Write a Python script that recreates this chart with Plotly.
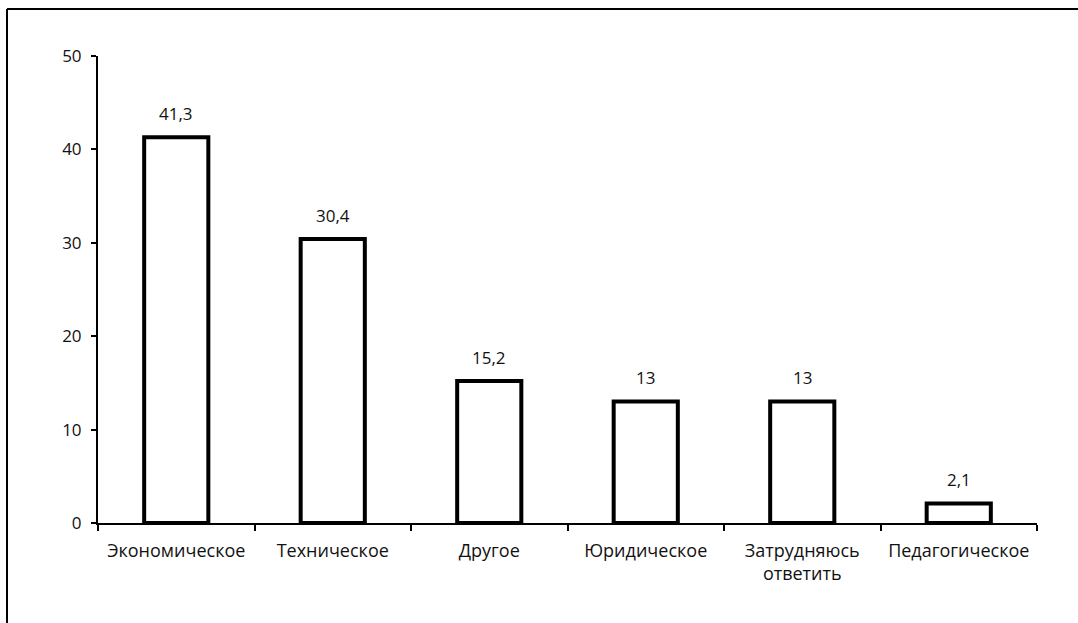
import plotly.graph_objects as go

categories = ["Экономическое", "Техническое", "Другое", "Юридическое",
              "Затрудняюсь<br>ответить", "Педагогическое"]
values = [41.3, 30.4, 15.2, 13, 13, 2.1]
labels = ["41,3", "30,4", "15,2", "13", "13", "2,1"]
y_ticks = [0, 10, 20, 30, 40, 50]

FONT = "'Open Sans', sans-serif"
FS = 17

fig = go.Figure()
fig.add_trace(go.Bar(
    x=categories, y=values, width=0.41,
    marker=dict(color="white", line=dict(color="black", width=4)),
    hoverinfo="skip",
))

for c, v, t in zip(categories, values, labels):
    fig.add_annotation(x=c, y=v, text=t, showarrow=False, yshift=24,
                       font=dict(family=FONT, size=FS, color="#111"))

def px_x(p):
    return (p - 98) / 939
def px_y(p):
    return (523 - p) / 467

fig.add_shape(type="line", xref="paper", yref="paper",
              x0=px_x(7), x1=px_x(1080), y0=px_y(9), y1=px_y(9),
              line=dict(color="black", width=2))
fig.add_shape(type="line", xref="paper", yref="paper",
              x0=px_x(7), x1=px_x(7), y0=px_y(9), y1=px_y(625),
              line=dict(color="black", width=2))

fig.update_layout(
    width=1078, height=623,
    margin=dict(l=98, r=41, t=56, b=100),
    plot_bgcolor="white", paper_bgcolor="white",
    showlegend=False, bargap=0.59,
    font=dict(family=FONT, size=FS, color="#111"),
    xaxis=dict(type="category", showline=True, linecolor="black", linewidth=2,
               ticks="outside", ticklen=6, tickwidth=2, tickcolor="black",
               tickson="boundaries", ticklabelstandoff=10,
               showgrid=False, zeroline=False,
               tickfont=dict(family=FONT, size=18, color="#111")),
    yaxis=dict(range=[0, 50], tickvals=y_ticks, showline=True, linecolor="black",
               linewidth=2, ticks="outside", ticklen=5, tickwidth=2,
               tickcolor="black", showgrid=False, zeroline=False,
               ticklabelstandoff=6,
               tickfont=dict(family=FONT, size=FS, color="#111")),
)

fig.write_html("out.html", config={"displayModeBar": False},
               post_script="document.body.style.margin='0';document.body.style.overflow='hidden';")
